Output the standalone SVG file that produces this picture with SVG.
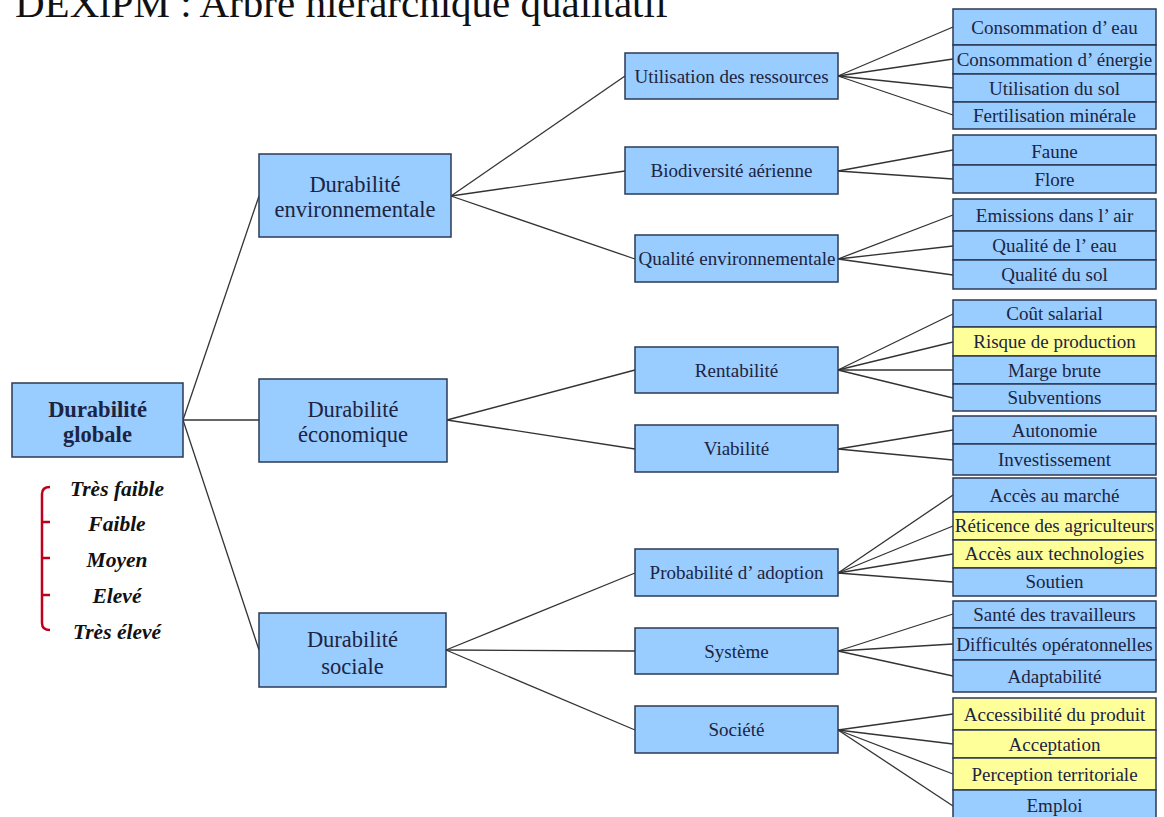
<svg xmlns="http://www.w3.org/2000/svg" width="1164" height="817" viewBox="0 0 1164 817">
<style>
text{font-family:"Liberation Serif","Times New Roman",serif;fill:#1c2442;text-anchor:middle}
.b rect{fill:#99ccff;stroke:#2c3a56;stroke-width:1.5}
.y rect{fill:#ffff99;stroke:#2c3a56;stroke-width:1.5}
.l2{font-size:22.5px}
.l3{font-size:19px}
.lf{font-size:19px}
.root{font-size:22.5px;font-weight:bold}
.leg{font-size:21.5px;font-weight:bold;font-style:italic;fill:#111}
#connectors line{stroke:#333;stroke-width:1.3}
</style>
<rect width="1164" height="817" fill="#ffffff"/>
<text x="15" y="17" style="font-size:41px;text-anchor:start;fill:#111">DEXiPM : Arbre hiérarchique qualitatif</text>

<g id="connectors">
<line x1="183" y1="420" x2="259" y2="196"/>
<line x1="183" y1="420" x2="259" y2="420"/>
<line x1="183" y1="420" x2="259" y2="650"/>
<line x1="451" y1="196" x2="625" y2="76"/>
<line x1="451" y1="196" x2="625" y2="171"/>
<line x1="451" y1="196" x2="635" y2="259"/>
<line x1="447" y1="420" x2="635" y2="370"/>
<line x1="447" y1="420" x2="635" y2="449"/>
<line x1="446" y1="650" x2="635" y2="573"/>
<line x1="446" y1="650" x2="635" y2="651"/>
<line x1="446" y1="650" x2="635" y2="730"/>
<line x1="838" y1="76" x2="953" y2="27"/>
<line x1="838" y1="76" x2="953" y2="59"/>
<line x1="838" y1="76" x2="953" y2="88"/>
<line x1="838" y1="76" x2="953" y2="115"/>
<line x1="838" y1="171" x2="953" y2="150"/>
<line x1="838" y1="171" x2="953" y2="179"/>
<line x1="838" y1="259" x2="953" y2="215"/>
<line x1="838" y1="259" x2="953" y2="246"/>
<line x1="838" y1="259" x2="953" y2="275"/>
<line x1="838" y1="370" x2="953" y2="314"/>
<line x1="838" y1="370" x2="953" y2="342"/>
<line x1="838" y1="370" x2="953" y2="370"/>
<line x1="838" y1="370" x2="953" y2="398"/>
<line x1="838" y1="449" x2="953" y2="430"/>
<line x1="838" y1="449" x2="953" y2="460"/>
<line x1="838" y1="573" x2="953" y2="495"/>
<line x1="838" y1="573" x2="953" y2="526"/>
<line x1="838" y1="573" x2="953" y2="554"/>
<line x1="838" y1="573" x2="953" y2="582"/>
<line x1="838" y1="651" x2="953" y2="614"/>
<line x1="838" y1="651" x2="953" y2="644"/>
<line x1="838" y1="651" x2="953" y2="676"/>
<line x1="838" y1="730" x2="953" y2="714"/>
<line x1="838" y1="730" x2="953" y2="744"/>
<line x1="838" y1="730" x2="953" y2="774"/>
<line x1="838" y1="730" x2="953" y2="806"/>
</g>

<g id="root" class="b"><rect x="12" y="383" width="171" height="74"/><text class="root" x="97.5" y="417">Durabilité</text><text class="root" x="97.5" y="442">globale</text></g>

<g id="legend">
<path d="M50,487 Q42,487 42,494 L42,623 Q42,630 50,630 M42,522 L50,522 M42,558 L50,558 M42,595 L50,595" fill="none" stroke="#c0001a" stroke-width="2.5"/>
<text class="leg" x="117" y="496">Très faible</text>
<text class="leg" x="117" y="531">Faible</text>
<text class="leg" x="117" y="567">Moyen</text>
<text class="leg" x="117" y="603">Elevé</text>
<text class="leg" x="117" y="639">Très élevé</text>
</g>

<g id="env" class="b"><rect x="259" y="154" width="192" height="83"/><text class="l2" x="355" y="192">Durabilité</text><text class="l2" x="355" y="217">environnementale</text></g>
<g id="eco" class="b"><rect x="259" y="379" width="188" height="83"/><text class="l2" x="353" y="417">Durabilité</text><text class="l2" x="353" y="442">économique</text></g>
<g id="soc" class="b"><rect x="259" y="613" width="187" height="74"/><text class="l2" x="352.5" y="647">Durabilité</text><text class="l2" x="352.5" y="674">sociale</text></g>

<g id="ressources" class="b"><rect x="625" y="53" width="213" height="46"/><text class="l3" x="731.5" y="83">Utilisation des ressources</text></g>
<g id="biodiv" class="b"><rect x="625" y="147" width="213" height="47"/><text class="l3" x="731.5" y="177">Biodiversité aérienne</text></g>
<g id="qualenv" class="b"><rect x="635" y="235" width="203" height="47"/><text class="l3" x="737" y="265">Qualité environnementale</text></g>
<g id="rentab" class="b"><rect x="635" y="347" width="203" height="46"/><text class="l3" x="736.5" y="377">Rentabilité</text></g>
<g id="viab" class="b"><rect x="635" y="425" width="203" height="47"/><text class="l3" x="736.5" y="455">Viabilité</text></g>
<g id="proba" class="b"><rect x="635" y="549" width="203" height="47"/><text class="l3" x="736.5" y="579">Probabilité d’ adoption</text></g>
<g id="systeme" class="b"><rect x="635" y="628" width="203" height="46"/><text class="l3" x="736.5" y="658">Système</text></g>
<g id="societe" class="b"><rect x="635" y="706" width="203" height="47"/><text class="l3" x="736.5" y="736">Société</text></g>

<g id="leaf1" class="b"><rect x="953" y="9" width="203" height="36"/><text class="lf" x="1054.5" y="33.5">Consommation d’ eau</text></g>
<g id="leaf2" class="b"><rect x="953" y="45" width="203" height="29"/><text class="lf" x="1054.5" y="66">Consommation d’ énergie</text></g>
<g id="leaf3" class="b"><rect x="953" y="74" width="203" height="28"/><text class="lf" x="1054.5" y="94.5">Utilisation du sol</text></g>
<g id="leaf4" class="b"><rect x="953" y="102" width="203" height="27"/><text class="lf" x="1054.5" y="122">Fertilisation minérale</text></g>
<g id="leaf5" class="b"><rect x="953" y="135" width="203" height="30"/><text class="lf" x="1054.5" y="157.5">Faune</text></g>
<g id="leaf6" class="b"><rect x="953" y="165" width="203" height="28"/><text class="lf" x="1054.5" y="186">Flore</text></g>
<g id="leaf7" class="b"><rect x="953" y="199" width="203" height="32"/><text class="lf" x="1054.5" y="222">Emissions dans l’ air</text></g>
<g id="leaf8" class="b"><rect x="953" y="231" width="203" height="29"/><text class="lf" x="1054.5" y="252">Qualité de l’ eau</text></g>
<g id="leaf9" class="b"><rect x="953" y="260" width="203" height="29"/><text class="lf" x="1054.5" y="281">Qualité du sol</text></g>
<g id="leaf10" class="b"><rect x="953" y="300" width="203" height="27"/><text class="lf" x="1054.5" y="320">Coût salarial</text></g>
<g id="leaf11" class="y"><rect x="953" y="327" width="203" height="29"/><text class="lf" x="1054.5" y="348">Risque de production</text></g>
<g id="leaf12" class="b"><rect x="953" y="356" width="203" height="28"/><text class="lf" x="1054.5" y="377">Marge brute</text></g>
<g id="leaf13" class="b"><rect x="953" y="384" width="203" height="27"/><text class="lf" x="1054.5" y="404">Subventions</text></g>
<g id="leaf14" class="b"><rect x="953" y="416" width="203" height="28"/><text class="lf" x="1054.5" y="437">Autonomie</text></g>
<g id="leaf15" class="b"><rect x="953" y="444" width="203" height="31"/><text class="lf" x="1054.5" y="466">Investissement</text></g>
<g id="leaf16" class="b"><rect x="953" y="478" width="203" height="34"/><text class="lf" x="1054.5" y="501.5">Accès au marché</text></g>
<g id="leaf17" class="y"><rect x="953" y="512" width="203" height="28"/><text class="lf" x="1054.5" y="532">Réticence des agriculteurs</text></g>
<g id="leaf18" class="y"><rect x="953" y="540" width="203" height="28"/><text class="lf" x="1054.5" y="560">Accès aux technologies</text></g>
<g id="leaf19" class="b"><rect x="953" y="568" width="203" height="28"/><text class="lf" x="1054.5" y="588">Soutien</text></g>
<g id="leaf20" class="b"><rect x="953" y="601" width="203" height="27"/><text class="lf" x="1054.5" y="621">Santé des travailleurs</text></g>
<g id="leaf21" class="b"><rect x="953" y="628" width="203" height="32"/><text class="lf" x="1054.5" y="651">Difficultés opératonnelles</text></g>
<g id="leaf22" class="b"><rect x="953" y="660" width="203" height="32"/><text class="lf" x="1054.5" y="683">Adaptabilité</text></g>
<g id="leaf23" class="y"><rect x="953" y="698" width="203" height="32"/><text class="lf" x="1054.5" y="721">Accessibilité du produit</text></g>
<g id="leaf24" class="y"><rect x="953" y="730" width="203" height="28"/><text class="lf" x="1054.5" y="751">Acceptation</text></g>
<g id="leaf25" class="y"><rect x="953" y="758" width="203" height="32"/><text class="lf" x="1054.5" y="781">Perception territoriale</text></g>
<g id="leaf26" class="b"><rect x="953" y="790" width="203" height="32"/><text class="lf" x="1054.5" y="812">Emploi</text></g>
</svg>
